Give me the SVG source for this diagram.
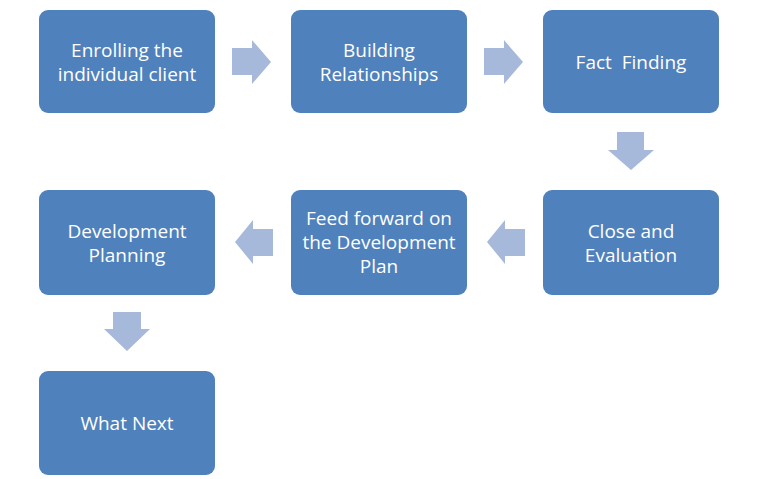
<svg xmlns="http://www.w3.org/2000/svg" width="763" height="479" viewBox="0 0 763 479">
<style>
.box{fill:#4f81bd;}
.lbl{fill:#ffffff;font-family:"Open Sans","Liberation Sans",sans-serif;font-size:19px;text-anchor:middle;}
.arr{fill:#a7b9da;}
</style>
<rect width="763" height="479" fill="#ffffff"/>
<g id="connectors">
<polygon class="arr" points="232,48 252,48 252,40 271,62 252,84 252,75 232,75"/>
<polygon class="arr" points="484,48 504,48 504,40 523,62 504,84 504,75 484,75"/>
<polygon class="arr" points="617,132 644,132 644,150 654,150 631,170 608,150 617,150"/>
<polygon class="arr" points="525,229 505,229 505,220 487,242 505,264 505,256 525,256"/>
<polygon class="arr" points="273,229 253,229 253,220 235,242 253,264 253,256 273,256"/>
<polygon class="arr" points="113,312 141,312 141,329 150,329 127,351 104,329 113,329"/>
</g>
<g id="n1"><rect class="box" x="39" y="10" width="176" height="103" rx="9"/>
<text class="lbl" x="127" y="57">Enrolling the</text><text class="lbl" x="127" y="81">individual client</text></g>
<g id="n2"><rect class="box" x="291" y="10" width="176" height="103" rx="9"/>
<text class="lbl" x="379" y="57">Building</text><text class="lbl" x="379" y="81">Relationships</text></g>
<g id="n3"><rect class="box" x="543" y="10" width="176" height="103" rx="9"/>
<text class="lbl" x="631" y="69" xml:space="preserve">Fact  Finding</text></g>
<g id="n4"><rect class="box" x="543" y="190" width="176" height="105" rx="9"/>
<text class="lbl" x="631" y="238">Close and</text><text class="lbl" x="631" y="262">Evaluation</text></g>
<g id="n5"><rect class="box" x="291" y="190" width="176" height="105" rx="9"/>
<text class="lbl" x="379" y="225">Feed forward on</text><text class="lbl" x="379" y="249">the Development</text><text class="lbl" x="379" y="273">Plan</text></g>
<g id="n6"><rect class="box" x="39" y="190" width="176" height="105" rx="9"/>
<text class="lbl" x="127" y="238">Development</text><text class="lbl" x="127" y="262">Planning</text></g>
<g id="n7"><rect class="box" x="39" y="371" width="176" height="104" rx="9"/>
<text class="lbl" x="127" y="430">What Next</text></g>
</svg>
